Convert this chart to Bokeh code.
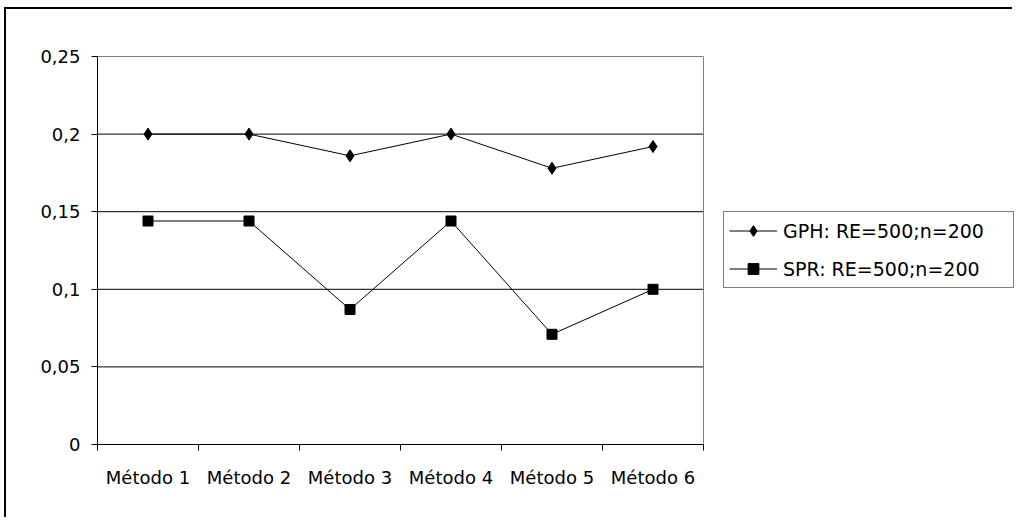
from bokeh.plotting import figure
from bokeh.models import Range1d, FixedTicker, Legend, LegendItem, LinearAxis, Span
from bokeh.embed import file_html
from bokeh.resources import INLINE

categories = ["Método 1", "Método 2", "Método 3", "Método 4", "Método 5", "Método 6"]
gph_values = [0.2, 0.2, 0.186, 0.2, 0.178, 0.192]
spr_values = [0.144, 0.144, 0.087, 0.144, 0.071, 0.1]
gph_label = "GPH: RE=500;n=200"
spr_label = "SPR: RE=500;n=200"
y_ticks = [0, 0.05, 0.1, 0.15, 0.2, 0.25]
y_tick_labels = ["0", "0,05", "0,1", "0,15", "0,2", "0,25"]

FONT = "DejaVu Sans"

n = len(categories)
xs = [i + 0.5 for i in range(n)]

W, H = 1008, 510
LEFT, TOP, BOTTOM = 91, 47, 75
PLOT_W = 606  # pixel width of the category area
frame_w = W - LEFT
x_end = n * frame_w / PLOT_W

p = figure(width=W, height=H, output_backend="svg", toolbar_location=None,
           x_range=Range1d(0, x_end), y_range=Range1d(0, 0.25),
           x_axis_type=None, y_axis_type=None,
           min_border_left=LEFT, min_border_right=0, min_border_top=TOP, min_border_bottom=BOTTOM)
p.styles = {"border-top": "2px solid black", "border-left": "2px solid black",
            "margin-top": "7px", "margin-left": "4px"}
p.background_fill_color = "white"
p.border_fill_color = "white"
p.outline_line_color = None

# Y axis
yaxis = LinearAxis(ticker=FixedTicker(ticks=y_ticks, minor_ticks=[]))
yaxis.major_label_overrides = {t: l for t, l in zip(y_ticks, y_tick_labels)}
yaxis.axis_line_color = "black"
yaxis.major_tick_line_color = "black"
yaxis.major_tick_out = 6
yaxis.major_tick_in = 0
yaxis.minor_tick_line_color = None
yaxis.major_label_standoff = 11
yaxis.major_label_text_font = FONT
yaxis.major_label_text_font_size = "18px"
yaxis.major_label_text_color = "black"
p.add_layout(yaxis, "left")

# X axis
xaxis = LinearAxis(ticker=FixedTicker(ticks=xs, minor_ticks=list(range(n + 1))))
xaxis.bounds = (0, n)
xaxis.major_label_overrides = {x: c for x, c in zip(xs, categories)}
xaxis.axis_line_color = "black"
xaxis.major_tick_line_color = None
xaxis.major_tick_out = 0
xaxis.major_tick_in = 0
xaxis.minor_tick_line_color = "black"
xaxis.minor_tick_out = 6
xaxis.minor_tick_in = 0
xaxis.major_label_standoff = 16
xaxis.major_label_text_font = FONT
xaxis.major_label_text_font_size = "18px"
xaxis.major_label_text_color = "black"
p.add_layout(xaxis, "below")

# Gridlines limited to the category area
p.segment(x0=[0] * len(y_ticks), x1=[n] * len(y_ticks), y0=y_ticks, y1=y_ticks,
          line_color="black", line_width=1)
# Right border of plot area
p.add_layout(Span(location=n, dimension="height", line_color="#808080", line_width=1))

l1 = p.line(xs, gph_values, line_color="black", line_width=1)
m1 = p.scatter(xs, gph_values, marker="diamond", size=12, fill_color="black", line_color="black")
l2 = p.line(xs, spr_values, line_color="black", line_width=1)
m2 = p.scatter(xs, spr_values, marker="square", size=10, fill_color="black", line_color="black")

legend = Legend(items=[LegendItem(label=gph_label, renderers=[l1, m1]),
                       LegendItem(label=spr_label, renderers=[l2, m2])],
                location=(626, 156))
legend.border_line_color = "black"
legend.border_line_width = 1
legend.background_fill_color = "white"
legend.background_fill_alpha = 1
legend.label_text_font = FONT
legend.label_text_font_size = "19px"
legend.label_text_color = "black"
legend.glyph_width = 48
legend.glyph_height = 27
legend.label_height = 27
legend.label_width = 225
legend.label_standoff = 6
legend.padding = 5
legend.spacing = 11
legend.margin = 0
p.add_layout(legend, "center")

open("out.html", "w").write(file_html(p, INLINE))
